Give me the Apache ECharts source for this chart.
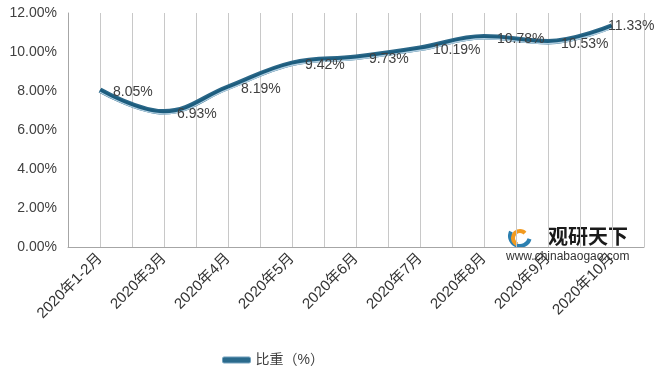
<!DOCTYPE html>
<html><head><meta charset="utf-8">
<script src="https://cdn.jsdelivr.net/npm/echarts@6/dist/echarts.min.js"></script>
<style>html,body{margin:0;padding:0;background:#fff}#c{width:662px;height:378px}</style>
</head><body><div id="c"></div>
<script>
var categories = ['2020年1-2月','2020年3月','2020年4月','2020年5月','2020年6月','2020年7月','2020年8月','2020年9月','2020年10月'];
var values = [8.05, 6.93, 8.19, 9.42, 9.73, 10.19, 10.78, 10.53, 11.33];
var seriesName = '比重（%）';
var halfSlots = [];
for (var i = 0; i < categories.length * 2; i++) halfSlots.push('');
var font = 'Liberation Sans, Noto Sans CJK SC, sans-serif';
var labelled = values.map(function(v, i){
  if (i === values.length - 1) return {value: v, label: {offset: [-17, 0]}};
  return v;
});
var chart = echarts.init(document.getElementById('c'));
chart.setOption({
  animation: false,
  grid: {left: 68, right: 18, top: 13, bottom: 131},
  legend: {
    top: 348, left: 217, itemWidth: 28, itemHeight: 6, icon: 'roundRect', itemGap: 4,
    textStyle: {fontFamily: font, fontSize: 14, color: '#404040'},
    data: [{name: seriesName, itemStyle: {color: '#2a6a8c', borderColor: '#6f9fbb', borderWidth: 1}}]
  },
  xAxis: [{
    type: 'category', data: categories, boundaryGap: true,
    axisLine: {lineStyle: {color: '#a6a6a6', width: 1}},
    axisTick: {show: false},
    splitLine: {show: false},
    axisLabel: {rotate: 45, fontFamily: font, fontSize: 15, color: '#333', interval: 0, margin: 9}
  }, {
    type: 'category', data: halfSlots, boundaryGap: true, position: 'bottom',
    axisLine: {show: false}, axisTick: {show: false}, axisLabel: {show: false},
    splitLine: {show: true, interval: 0, lineStyle: {color: '#c8c8c8', width: 1}}
  }],
  yAxis: {
    type: 'value', min: 0, max: 12, interval: 2,
    axisLine: {show: true, lineStyle: {color: '#a6a6a6'}},
    axisTick: {show: false},
    splitLine: {show: false},
    axisLabel: {formatter: function(v){return v.toFixed(2)+'%';}, fontFamily: font, fontSize: 14, color: '#404040', margin: 11}
  },
  series: [{
    name: seriesName, type: 'line', data: values, smooth: 0.4, showSymbol: false, symbol: 'none',
    xAxisIndex: 0, z: 3,
    lineStyle: {color: '#2a6788', width: 5.5},
    silent: true,
    label: {show: false}
  }, {
    name: seriesName, type: 'line', data: labelled, smooth: 0.4, symbol: 'circle', symbolSize: 0.1,
    xAxisIndex: 0, z: 4,
    itemStyle: {color: '#1f5f80'},
    lineStyle: {color: '#1d5d7e', width: 2.6, shadowColor: '#b3d0e2', shadowOffsetY: 1.4, shadowBlur: 0},
    label: {show: true, position: 'right', distance: 13, offset: [0, 2], fontFamily: font, fontSize: 14, color: '#404040',
      formatter: function(p){return p.value.toFixed(2)+'%';}}
  }],
  graphic: [
    {type: 'group', left: 506, top: 226, children: [
      {type: 'arc', shape: {cx: 14, cy: 12, r: 10, startAngle: 0.3, endAngle: 3.6}, style: {stroke: '#2b7fb0', lineWidth: 4, fill: null}},
      {type: 'arc', shape: {cx: 14, cy: 14, r: 7, startAngle: 2.0, endAngle: 5.5}, style: {stroke: '#f29a1f', lineWidth: 4, fill: null}},
      {type: 'text', x: 42, y: 2, style: {text: '观研天下', font: 'bold 20px Noto Sans CJK SC', fill: '#1a1a1a'}},
      {type: 'text', x: 0, y: 27, style: {text: 'www.chinabaogao.com', font: '12px Liberation Sans', fill: '#333'}}
    ]}
  ]
});
</script></body></html>
